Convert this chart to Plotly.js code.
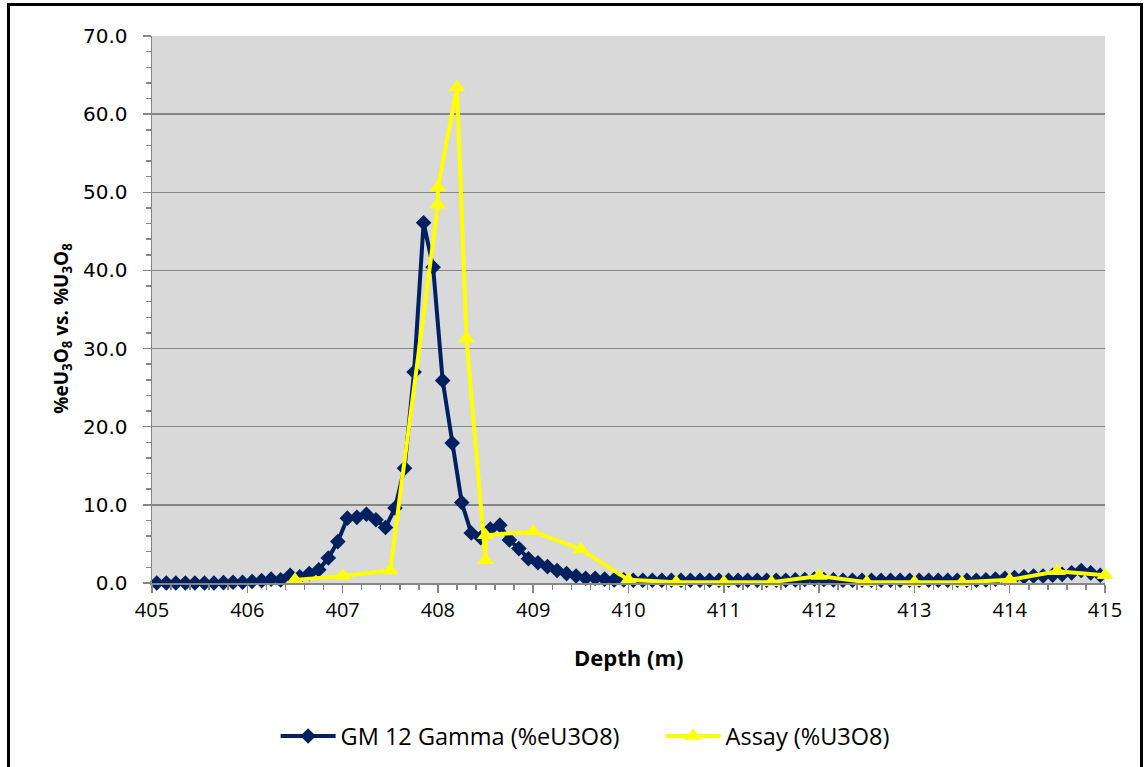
<!DOCTYPE html>
<html>
<head>
<meta charset="utf-8">
<script src="https://cdn.plot.ly/plotly-3.0.1.min.js"></script>
<style>
  html, body { margin: 0; padding: 0; background: #fff; overflow: hidden; }
  #chart { position: absolute; left: 0; top: 0; width: 1146px; height: 767px; }
  #frame { position: absolute; left: 7px; top: 3px; width: 1130px; height: 800px;
           border: 3px solid #000; pointer-events: none; }
</style>
</head>
<body>
<div id="chart"></div>
<div id="frame"></div>
<script>
// GM 12 Gamma probe (%eU3O8), sampled every 0.1 m
const gammaDepth = [
  405.05, 405.15, 405.25, 405.35, 405.45, 405.55, 405.65, 405.75, 405.85, 405.95,
  406.05, 406.15, 406.25, 406.35, 406.45, 406.55, 406.65, 406.75, 406.85, 406.95,
  407.05, 407.15, 407.25, 407.35, 407.45, 407.55, 407.65, 407.75, 407.85, 407.95,
  408.05, 408.15, 408.25, 408.35, 408.45, 408.55, 408.65, 408.75, 408.85, 408.95,
  409.05, 409.15, 409.25, 409.35, 409.45, 409.55, 409.65, 409.75, 409.85, 409.95,
  410.05, 410.15, 410.25, 410.35, 410.45, 410.55, 410.65, 410.75, 410.85, 410.95,
  411.05, 411.15, 411.25, 411.35, 411.45, 411.55, 411.65, 411.75, 411.85, 411.95,
  412.05, 412.15, 412.25, 412.35, 412.45, 412.55, 412.65, 412.75, 412.85, 412.95,
  413.05, 413.15, 413.25, 413.35, 413.45, 413.55, 413.65, 413.75, 413.85, 413.95,
  414.05, 414.15, 414.25, 414.35, 414.45, 414.55, 414.65, 414.75, 414.85, 414.95
];
const gammaValue = [
  0.0, 0.0, 0.0, 0.0, 0.0, 0.0, 0.0, 0.05, 0.1, 0.1,
  0.2, 0.3, 0.5, 0.4, 1.0, 0.8, 1.2, 1.7, 3.2, 5.3,
  8.3, 8.4, 8.8, 8.1, 7.1, 9.6, 14.7, 27.0, 46.1, 40.4,
  25.9, 17.9, 10.3, 6.4, 5.8, 6.9, 7.4, 5.5, 4.4, 3.1,
  2.6, 2.1, 1.6, 1.2, 0.9, 0.6, 0.6, 0.5, 0.4, 0.4,
  0.35, 0.35, 0.35, 0.35, 0.35, 0.35, 0.35, 0.35, 0.35, 0.35,
  0.35, 0.35, 0.35, 0.35, 0.35, 0.35, 0.35, 0.4, 0.45, 0.5,
  0.45, 0.4, 0.35, 0.35, 0.35, 0.35, 0.35, 0.35, 0.35, 0.35,
  0.35, 0.35, 0.35, 0.35, 0.35, 0.35, 0.35, 0.4, 0.5, 0.6,
  0.7, 0.8, 0.9, 0.9, 1.0, 1.1, 1.3, 1.6, 1.3, 1.0
];

// Assay (%U3O8)
const assayDepth = [406.5, 407.0, 407.5, 408.0, 408.0, 408.2, 408.3, 408.5, 408.5, 409.0,
                    409.5, 410.0, 410.5, 411.0, 411.5, 412.0, 412.5, 413.0, 413.5, 414.0,
                    414.5, 415.0];
const assayValue = [0.4, 0.9, 1.6, 48.4, 50.6, 63.4, 31.3, 2.9, 6.1, 6.6,
                    4.3, 0.4, 0.1, 0.1, 0.1, 0.9, 0.1, 0.1, 0.1, 0.4,
                    1.5, 1.0];

const xTicks = [405, 406, 407, 408, 409, 410, 411, 412, 413, 414, 415];
const yTicks = [0, 10, 20, 30, 40, 50, 60, 70];

const gray = '#868686';

const traces = [
  {
    x: gammaDepth, y: gammaValue, type: 'scatter', mode: 'lines+markers',
    name: 'GM 12 Gamma (%eU3O8)',
    line: { color: '#002060', width: 4 },
    marker: { symbol: 'diamond', size: 12, color: '#002060' },
    cliponaxis: false
  },
  {
    x: assayDepth, y: assayValue, type: 'scatter', mode: 'lines+markers',
    name: 'Assay (%U3O8)',
    line: { color: '#FFFF00', width: 4 },
    marker: { symbol: 'triangle-up', size: 15, color: '#FFFF00' },
    cliponaxis: false
  }
];

const layout = {
  width: 1146, height: 767,
  margin: { l: 152, r: 41, t: 36, b: 184, autoexpand: false },
  paper_bgcolor: '#ffffff',
  plot_bgcolor: '#D9D9D9',
  showlegend: true,
  legend: {
    orientation: 'h', x: 0.1297, xanchor: 'left', y: -0.28, yanchor: 'middle',
    font: { family: 'Open Sans, sans-serif', size: 23.5, color: '#000' },
    itemwidth: 55, entrywidth: 315, bgcolor: 'rgba(0,0,0,0)'
  },
  xaxis: {
    range: [405, 415], tickvals: xTicks, ticktext: xTicks.map(String),
    showgrid: false, zeroline: false,
    showline: true, linecolor: gray, linewidth: 1.5,
    ticks: 'outside', ticklen: 8, tickwidth: 1.5, tickcolor: gray,
    minor: { dtick: 0.2, ticks: 'outside', ticklen: 5, tickwidth: 1.5, tickcolor: gray, showgrid: false },
    tickfont: { family: 'Liberation Sans Narrow, Open Sans, sans-serif', size: 20, color: '#000' },
    fixedrange: true
  },
  yaxis: {
    range: [0, 70], tickvals: yTicks, tickformat: '.1f',
    showgrid: true, gridcolor: gray, gridwidth: 1.5, zeroline: false,
    showline: true, linecolor: gray, linewidth: 1.5,
    ticks: 'outside', ticklen: 8, tickwidth: 1.5, tickcolor: gray,
    minor: { dtick: 2, ticks: 'outside', ticklen: 5, tickwidth: 1.5, tickcolor: gray, showgrid: false },
    tickfont: { family: 'DejaVu Sans, sans-serif', size: 20, color: '#000' },
    ticklabelstandoff: 11,
    fixedrange: true
  },
  annotations: [
    {
      text: '<b>Depth (m)</b>', xref: 'paper', yref: 'paper', x: 0.5, y: -0.136,
      xanchor: 'center', yanchor: 'middle', showarrow: false,
      font: { family: 'Open Sans, sans-serif', size: 22, color: '#000' }
    },
    {
      text: '<b>%eU<sub>3</sub>O<sub>8</sub> vs. %U<sub>3</sub>O<sub>8</sub></b>',
      xref: 'paper', yref: 'paper', x: -0.0944, y: 0.465,
      xanchor: 'center', yanchor: 'middle', textangle: -90, showarrow: false,
      font: { family: 'Open Sans, sans-serif', size: 19, color: '#000' }
    }
  ]
};

Plotly.newPlot('chart', traces, layout, { staticPlot: true, displayModeBar: false });
</script>
</body>
</html>
